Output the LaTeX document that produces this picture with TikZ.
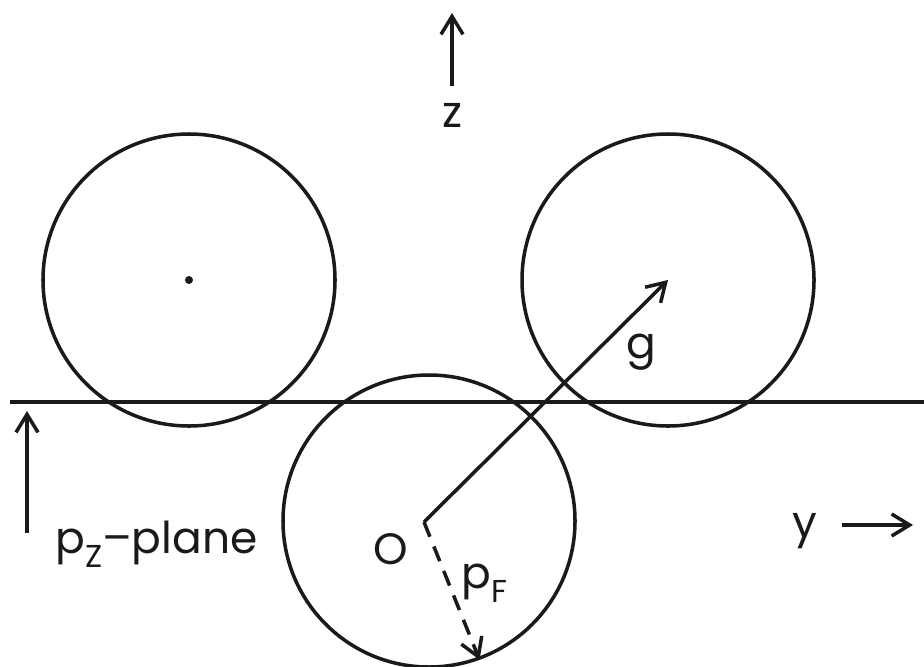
\documentclass[tikz,border=0pt]{standalone}
\usepackage{fontspec}
\setmainfont{Poppins}
\usetikzlibrary{arrows.meta}
\definecolor{ink}{HTML}{1A1A1A}
\definecolor{paper}{HTML}{FFFFFF}
\newcommand{\dropsub}[1]{\raisebox{-0.32em}{\fontsize{18}{18}\selectfont #1}}
\tikzset{
  ball/.style={circle, draw=ink, line width=2pt, inner sep=0pt,
               minimum size=58.4mm},
  ar/.style={-{Straight Barb[length=3.6mm,width=4.4mm]}, line width=2pt,
             color=ink},
  plane/.style={line width=2pt, color=ink},
  lbl/.style={font=\fontsize{25}{30}\selectfont, text=ink, inner sep=0pt},
}

\begin{document}
\begin{tikzpicture}[x=0.2mm, y=-0.2mm]
\useasboundingbox[fill=paper] (0,0) rectangle (924,666);

% the three spheres
\node[ball] (cleft)  at (189,280) {};
\node[ball] (cright) at (668,280) {};
\node[ball] (cbot)   at (429,521) {};
\fill[ink] (cleft.center) circle (0.8mm);

% p_z plane
\coordinate (plw) at (10,402);
\coordinate (ple) at (924,402);
\draw[plane] (plw) -- (ple);

% z axis
\node[lbl] (zlbl) at (452,115) {z};
\coordinate (zfoot) at (452,86);
\coordinate (ztip) at (452,13);
\draw[ar] (zfoot) -- (ztip);

% y axis
\node[lbl, anchor=base] (ylbl) at (805,537) {y};
\coordinate (yfoot) at (842,525);
\coordinate (ytip) at (913,525);
\draw[ar] (yfoot) -- (ytip);

% plane label
\node[lbl, anchor=base west] (pzlbl) at (55,553) {p\dropsub{Z}--plane};
\coordinate (pzfoot) at (27,533);
\coordinate (pztip) at (27,411);
\draw[ar] (pzfoot) -- (pztip);

% origin, g and p_F
\coordinate (O) at (424,522);
\node[lbl] (olbl) at (391,549) {O};
\draw[ar] (O) -- (cright.center);
\node[lbl, anchor=base] (glbl) at (641,358) {g};
\draw[ar, dashed, dash pattern=on 9pt off 6pt] (O) -- (cbot.-70);
\node[lbl, anchor=base west] (pflbl) at (461,588) {p\dropsub{F}};
\end{tikzpicture}
\end{document}
